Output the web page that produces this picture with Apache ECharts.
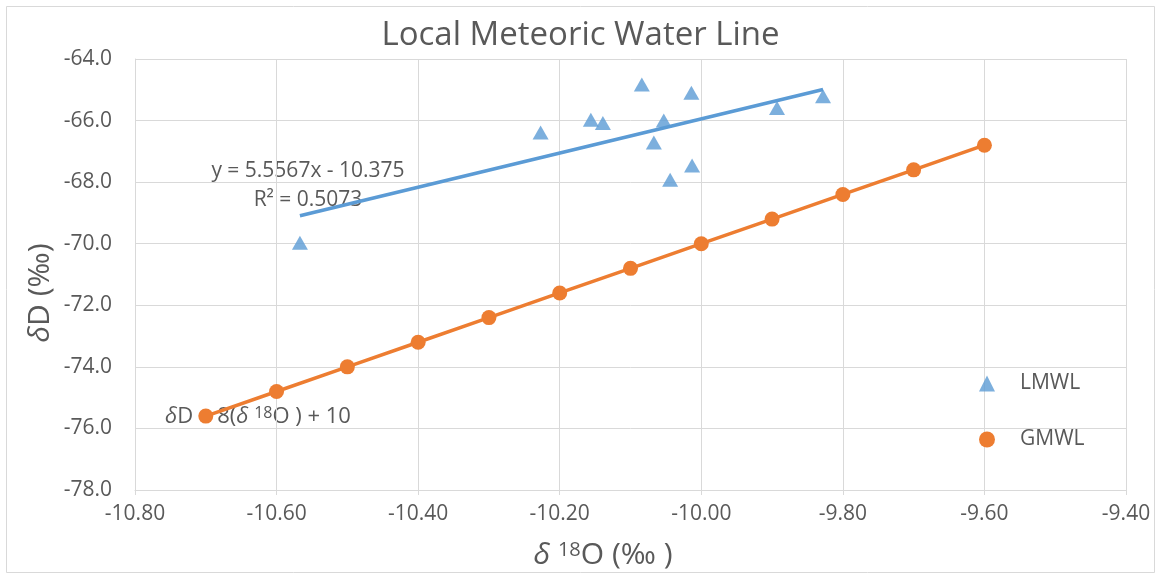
<!DOCTYPE html>
<html>
<head>
<meta charset="utf-8">
<script src="https://cdn.jsdelivr.net/npm/echarts@6/dist/echarts.min.js"></script>
<style>html,body{margin:0;padding:0;background:#fff;}#chart{width:1161px;height:578px;}</style>
</head>
<body>
<div id="chart"></div>
<script>
// LMWL observed samples
const lmwlX = [-10.227, -10.156, -10.139, -10.084, -10.053, -10.067, -10.044, -10.014, -10.013, -10.567, -9.893, -9.828];
const lmwlY = [-66.39, -65.97, -66.08, -64.83, -66.00, -66.71, -67.92, -65.10, -67.46, -69.97, -65.59, -65.21];
// LMWL linear trendline endpoints (y = 5.5567x - 10.375)
const trendX = [-10.567, -9.828];
const trendY = [-69.09, -64.99];
// GMWL points
const gmwlX = [-10.7, -10.6, -10.5, -10.4, -10.3, -10.2, -10.1, -10.0, -9.9, -9.8, -9.7, -9.6];
const gmwlY = [-75.6, -74.8, -74.0, -73.2, -72.4, -71.6, -70.8, -70.0, -69.2, -68.4, -67.6, -66.8];

const FONT = '"Open Sans", sans-serif';
const TXT = '#595959';
const GRID = '#D9D9D9';
const BLUE = '#5B9BD5';
const ORANGE = '#ED7D31';

const chart = echarts.init(document.getElementById('chart'));
chart.setOption({
  backgroundColor: '#fff',
  animation: false,
  textStyle: {fontFamily: FONT},
  title: {
    text: 'Local Meteoric Water Line',
    left: 'center', top: 14,
    textStyle: {fontFamily: FONT, fontSize: 33, fontWeight: 'normal', color: TXT}
  },
  grid: {left: 135, right: 35, top: 59, bottom: 88, containLabel: false},
  legend: {
    orient: 'vertical', left: 979, top: 373, itemGap: 35, padding: 0,
    itemWidth: 16, itemHeight: 16,
    textStyle: {fontFamily: FONT, fontSize: 21, color: TXT, padding: [0, 0, 0, 20]},
    data: [{name: 'LMWL', icon: 'triangle'}, {name: 'GMWL', icon: 'circle'}]
  },
  xAxis: {
    type: 'value', min: -10.8, max: -9.4, interval: 0.2,
    axisLine: {show: true, onZero: false, lineStyle: {color: GRID, width: 1}},
    axisTick: {show: true, length: 5, lineStyle: {color: GRID}},
    splitLine: {show: true, lineStyle: {color: GRID, width: 1}},
    axisLabel: {fontFamily: FONT, fontSize: 21, color: TXT, margin: 14,
      formatter: v => v.toFixed(2)}
  },
  yAxis: {
    type: 'value', min: -78, max: -64, interval: 2,
    axisLine: {show: true, onZero: false, lineStyle: {color: GRID, width: 1}},
    axisTick: {show: false},
    splitLine: {show: true, lineStyle: {color: GRID, width: 1}},
    axisLabel: {fontFamily: FONT, fontSize: 21, color: TXT, margin: 23,
      formatter: v => v.toFixed(1)}
  },
  series: [
    {
      name: 'LMWL trend', type: 'line', data: trendX.map((x, i) => [x, trendY[i]]),
      symbol: 'none', lineStyle: {color: BLUE, width: 3.5}, z: 2, silent: true
    },
    {
      name: 'LMWL', type: 'scatter', data: lmwlX.map((x, i) => [x, lmwlY[i]]),
      symbol: 'triangle', symbolSize: [16, 14], itemStyle: {color: BLUE}, z: 3
    },
    {
      name: 'GMWL', type: 'line', data: gmwlX.map((x, i) => [x, gmwlY[i]]),
      symbol: 'circle', symbolSize: 15, showAllSymbol: true,
      lineStyle: {color: ORANGE, width: 3.5}, itemStyle: {color: ORANGE}, z: 3
    }
  ],
  graphic: [
    {type: 'rect', shape: {x: 6.5, y: 6.5, width: 1148, height: 566},
     style: {fill: 'none', stroke: GRID, lineWidth: 1}, silent: true, z: -10},
    {type: 'text', x: 603, y: 555,
     style: {text: '{i|δ} {s|18}O (‰ )', align: 'center', verticalAlign: 'middle',
       fill: TXT, fontFamily: FONT, fontSize: 30,
       rich: {i: {fontStyle: 'italic', fontSize: 30, fill: TXT, fontFamily: FONT},
              s: {fontSize: 20, fill: TXT, fontFamily: FONT, verticalAlign: 'top', padding: [0,0,10,0]}}}},
    {type: 'text', x: 40, y: 293, rotation: Math.PI / 2,
     style: {text: '{i|δ}D (‰)', align: 'center', verticalAlign: 'middle',
       fill: TXT, fontFamily: FONT, fontSize: 30,
       rich: {i: {fontStyle: 'italic', fontSize: 30, fill: TXT, fontFamily: FONT}}}},
    {type: 'text', x: 308, y: 171,
     style: {text: 'y = 5.5567x - 10.375', align: 'center', verticalAlign: 'middle',
       fill: TXT, fontFamily: FONT, fontSize: 21}},
    {type: 'text', x: 308, y: 200,
     style: {text: 'R² = 0.5073', align: 'center', verticalAlign: 'middle',
       fill: TXT, fontFamily: FONT, fontSize: 21}},
    {type: 'text', x: 165, y: 417,
     style: {text: '{i|δ}D = 8({i|δ} {s|18}O ) + 10', align: 'left', verticalAlign: 'middle',
       fill: TXT, fontFamily: FONT, fontSize: 22,
       rich: {i: {fontStyle: 'italic', fontSize: 22, fill: TXT, fontFamily: FONT},
              s: {fontSize: 16, fill: TXT, fontFamily: FONT, padding: [0,0,8,0]}}}}
  ]
});
</script>
</body>
</html>
